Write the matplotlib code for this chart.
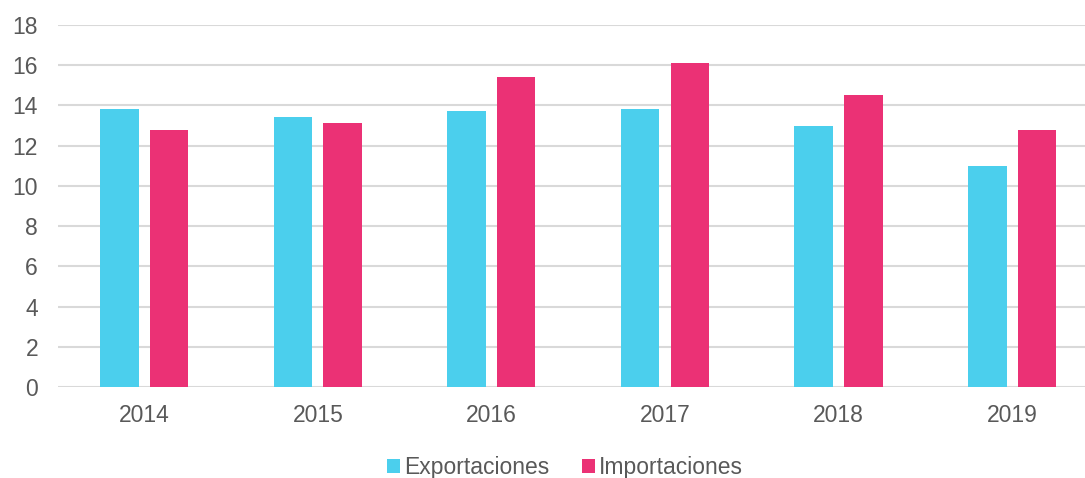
import numpy as np
import matplotlib.pyplot as plt

plt.rcParams['font.family'] = ['Liberation Sans', 'DejaVu Sans']

years = ["2014", "2015", "2016", "2017", "2018", "2019"]
exportaciones = [13.8, 13.4, 13.7, 13.8, 13.0, 11.0]
importaciones = [12.8, 13.1, 15.4, 16.1, 14.5, 12.8]

fig = plt.figure(figsize=(10.85, 4.78), dpi=100)
ax = fig.add_axes([0.053, 0.19, 0.947, 0.758])

x = np.arange(len(years))
w = 0.222
ax.bar(x - 0.143, exportaciones, w, color="#4bcfed", label="Exportaciones", zorder=3)
ax.bar(x + 0.143, importaciones, w, color="#eb3175", label="Importaciones", zorder=3)

ax.set_ylim(0, 18)
ax.set_xlim(-0.5, 5.42)
ax.set_yticks(range(0, 19, 2))
ax.set_xticks(x)
ax.set_xticklabels(years)
ax.grid(axis="y", color="#d9d9d9", linewidth=1.5, zorder=0)
for s in ax.spines.values():
    s.set_visible(False)
ax.tick_params(length=0, labelsize=16.5, labelcolor="#595959")
ax.tick_params(axis="y", pad=14)
ax.tick_params(axis="x", pad=12)

fig.legend(loc="lower center", bbox_to_anchor=(0.521, -0.045), ncol=2, frameon=False,
           fontsize=16.5, labelcolor="#595959", handlelength=0.55, handleheight=0.55,
           handletextpad=0.2, columnspacing=1.4)

fig.savefig("out.png", dpi=100)
